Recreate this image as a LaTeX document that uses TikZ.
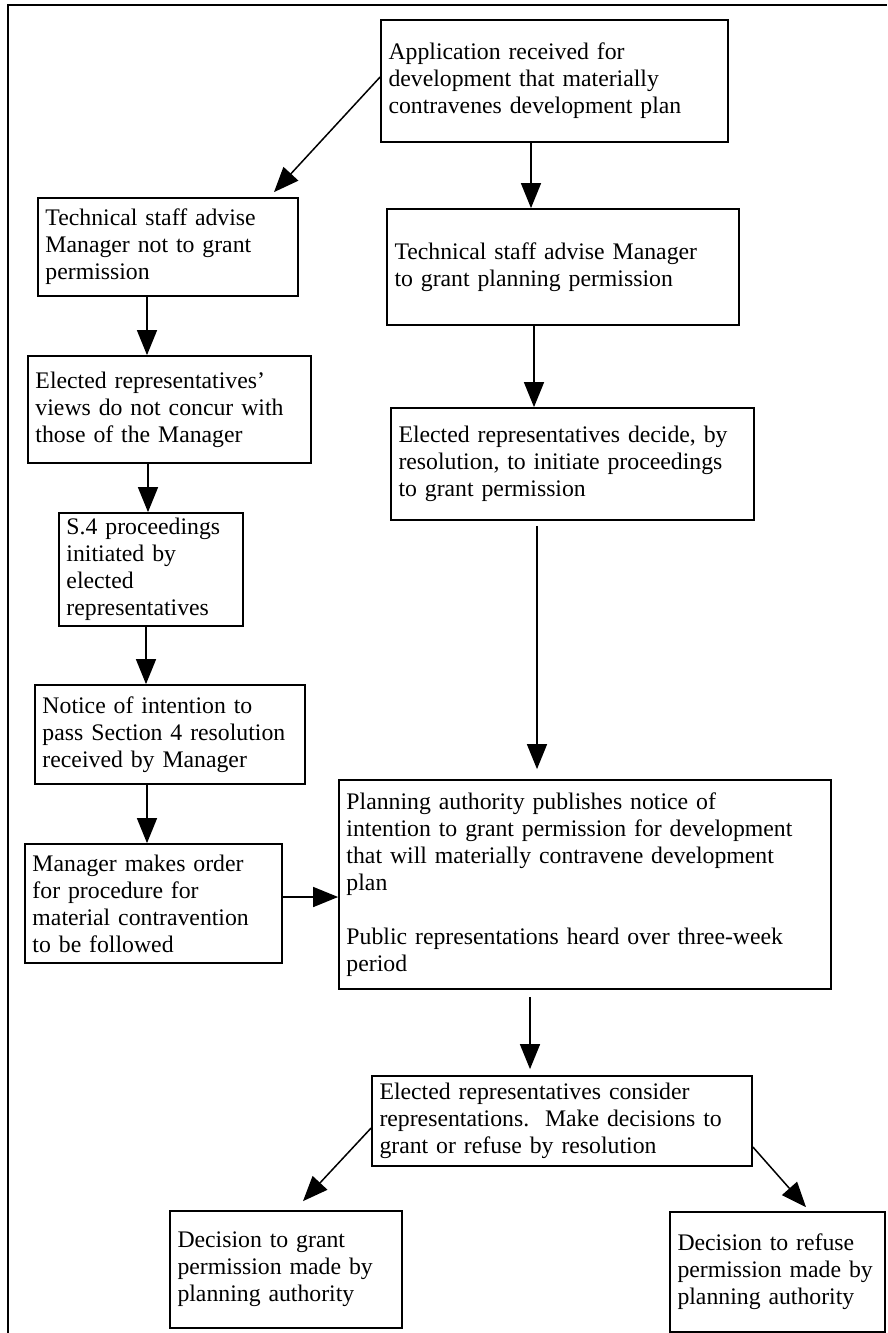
\documentclass[tikz,border=0pt]{standalone}
\usepackage{fontspec}
\setmainfont{Liberation Serif}
\usetikzlibrary{arrows.meta}

\begin{document}
\begin{tikzpicture}[x=0.4pt, y=-0.4pt,
    stage/.style={draw, line width=0.7pt, align=left, inner xsep=3pt, inner ysep=1pt,
      font=\fontsize{9.5}{10.8}\selectfont},
    flow/.style={line width=0.6pt, -{Triangle[length=10pt,width=8pt]}}]
    \useasboundingbox (0,0) rectangle (887,1333);
    \draw [line width=0.6pt] (8,1333) |- (887,5);

    \node [stage, text width=132.8pt, minimum height=48.8pt] (app) at (554.5,81)
      {Application received for\\development that materially\\contravenes development plan};
    \node [stage, text width=98pt, minimum height=39.2pt] (advno) at (168,247)
      {Technical staff advise\\Manager not to grant\\permission};
    \node [stage, text width=134.8pt, minimum height=46.4pt] (advyes) at (563,267)
      {Technical staff advise Manager\\to grant planning permission\\[4pt]};

    \node [stage, text width=107.2pt, minimum height=42.8pt] (viewsno) at (169.5,409.5)
      {Elected representatives'\\views do not concur with\\those of the Manager};
    \node [stage, text width=139.2pt, minimum height=44.8pt] (resolve) at (572.5,464)
      {Elected representatives decide, by\\resolution, to initiate proceedings\\to grant permission};
    \node [stage, text width=67.6pt, minimum height=45.2pt] (sfour) at (151,569.5)
      {S.4 proceedings\\initiated by\\elected\\representatives};
    \node [stage, text width=102pt, minimum height=39.6pt] (notice) at (170,734.5)
      {Notice of intention to\\pass Section 4 resolution\\received by Manager};
    \node [stage, text width=96.8pt, minimum height=47.6pt] (order) at (153.5,903.5)
      {Manager makes order\\for procedure for\\material contravention\\to be followed};
    \node [stage, text width=190.8pt, minimum height=83.6pt] (publish) at (585,884.5)
      {Planning authority publishes notice of\\intention to grant permission for development\\that will materially contravene development\\plan\\[10.8pt]Public representations heard over three-week\\period};

    \node [stage, text width=146pt, minimum height=36pt] (consider) at (562,1121)
      {Elected representatives consider\\representations.\ \ Make decisions to\\grant or refuse by resolution};
    \node [stage, text width=86.8pt, minimum height=46.8pt] (grant) at (286,1269.5)
      {Decision to grant\\permission made by\\planning authority};
    \node [stage, text width=80pt, minimum height=48pt] (refuse) at (777.5,1272)
      {Decision to refuse\\permission made by\\planning authority};

    \draw [flow] ([shift={(0,-4)}]app.west) -- ([shift={(106,-5)}]advno.north);
    \draw [flow] ([shift={(-23.5,0)}]app.south) -- ([shift={(-32,0)}]advyes.north);
    \draw [flow] ([shift={(-29,0)}]advyes.south) -- ([shift={(-38.5,0)}]resolve.north);
    \draw [flow] ([shift={(-21,0)}]advno.south) -- ([shift={(-22.5,0)}]viewsno.north);
    \draw [flow] ([shift={(-21.5,0)}]viewsno.south) -- ([shift={(-3,0)}]sfour.north);
    \draw [flow] ([shift={(-5,0)}]sfour.south) -- ([shift={(-24,0)}]notice.north);
    \draw [flow] ([shift={(-23,0)}]notice.south) -- ([shift={(-6.5,0)}]order.north);
    \draw [flow] ([shift={(0,-6.5)}]order.east) -- ([shift={(0,12.5)}]publish.west);
    \draw [flow, shorten <=2pt, shorten >=4pt] ([shift={(-35.5,0)}]resolve.south) -- ([shift={(-48,0)}]publish.north);
    \draw [flow, shorten <=3pt, shorten >=2.4pt] ([shift={(-55,0)}]publish.south) -- ([shift={(-32,0)}]consider.north);
    \draw [flow] ([shift={(0,7)}]consider.west) -- ([shift={(17,-9)}]grant.north);
    \draw [flow] ([shift={(0,26)}]consider.east) -- ([shift={(28.5,-4)}]refuse.north);
  \end{tikzpicture}
\end{document}
